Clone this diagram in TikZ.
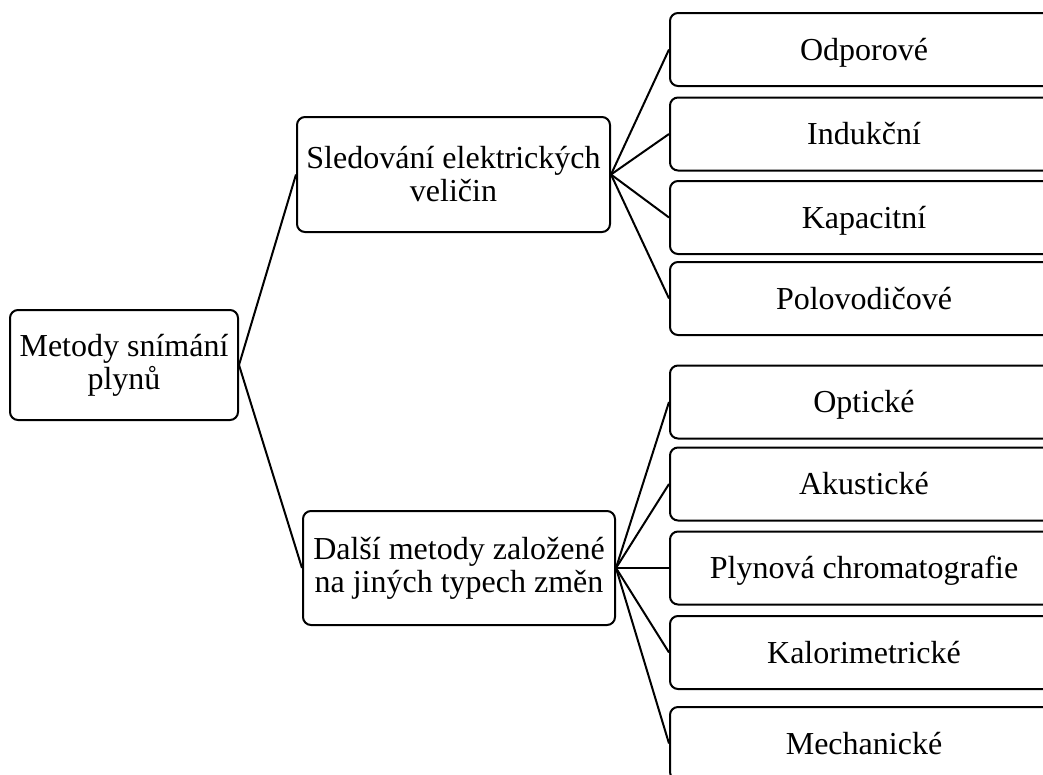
\documentclass[tikz,border=0pt]{standalone}
\usepackage{fontspec}
\setmainfont{Liberation Serif}
\usetikzlibrary{positioning}

\begin{document}
\begin{tikzpicture}[
    x=1pt, y=-1pt,
    every node/.style={align=center, font=\fontsize{32}{33}\selectfont},
    caja/.style={rectangle, rounded corners=8pt, draw, line width=2pt, inner sep=0pt},
    hoja/.style={caja, minimum width=388pt, minimum height=73pt, anchor=west,
                 text height=29pt, text depth=8pt},
    spoj/.style={line width=2pt}
]
    \useasboundingbox (0,0) rectangle (1043,774);
    \clip (0,0) rectangle (1043,774);

    \node[caja, minimum width=228pt, minimum height=110pt] (koren) at (124,365) {Metody snímání\\ plynů};
    \node[caja, minimum width=313pt, minimum height=115pt] (elektr) at (453.5,174.5) {Sledování elektrických\\ veličin};
    \node[caja, minimum width=312pt, minimum height=114pt] (dalsi) at (459,568) {Další metody založené\\ na jiných typech změn};

    \node[hoja] (odpor)   at (669,49.5)  {Odporové};
    \node[hoja] (indukc)  at (669,134)   {Indukční};
    \node[hoja] (kapac)   at (669,217.5) {Kapacitní};
    \node[hoja] (polovod) at (669,298.5) {Polovodičové};
    \node[hoja] (optic)   at (669,402)   {Optické};
    \node[hoja] (akust)   at (669,484)   {Akustické};
    \node[hoja] (chrom)   at (669,568)   {Plynová chromatografie};
    \node[hoja] (kalor)   at (669,652.5) {Kalorimetrické};
    \node[hoja] (mechan)  at (669,743.5) {Mechanické};

    \draw[spoj] (koren.east) -- (elektr.west);
    \draw[spoj] (koren.east) -- (dalsi.west);

    \draw[spoj] (elektr.east) -- (odpor.west);
    \draw[spoj] (elektr.east) -- (indukc.west);
    \draw[spoj] (elektr.east) -- (kapac.west);
    \draw[spoj] (elektr.east) -- (polovod.west);

    \draw[spoj] (dalsi.east) -- (optic.west);
    \draw[spoj] (dalsi.east) -- (akust.west);
    \draw[spoj] (dalsi.east) -- (chrom.west);
    \draw[spoj] (dalsi.east) -- (kalor.west);
    \draw[spoj] (dalsi.east) -- (mechan.west);
\end{tikzpicture}
\end{document}
